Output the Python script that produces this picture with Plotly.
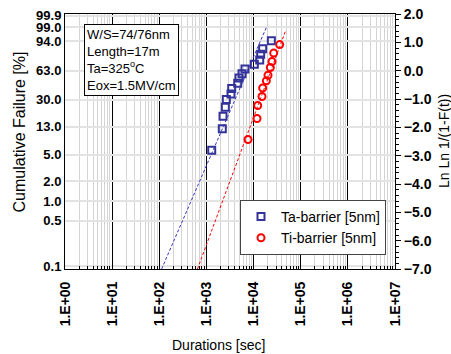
import plotly.graph_objects as go

# ---- data ----
ta_time = [1294, 2173, 2249, 2518, 2642, 3319, 3436, 4603, 4909, 5689, 6577, 10375, 13490, 14158, 15596, 23823]
ta_lnln = [-2.81, -2.05, -1.61, -1.29, -1.02, -0.82, -0.63, -0.44, -0.26, -0.11, 0.055, 0.23, 0.38, 0.58, 0.77, 1.06]

ti_time = [7621, 11830, 12218, 15101, 15596, 18664, 20230, 22646, 24604, 26730, 35810]
ti_lnln = [-2.43, -1.69, -1.23, -0.91, -0.61, -0.36, -0.16, 0.11, 0.32, 0.62, 0.92]

ta_fit_time = [112, 19275]
ta_fit_lnln = [-7.0, 1.58]
ti_fit_time = [646, 47100]
ti_fit_lnln = [-7.0, 1.38]

left_tick_pos = [-6.907, -5.296, -4.600, -3.902, -2.970, -1.971, -1.031, 0.0, 1.034, 1.527, 1.933]
left_tick_text = ["0.1", "0.5", "1.0", "2.0", "5.0", "13.0", "30.0", "63.0", "94.0", "99.0", "99.9"]

x_tick_vals = [1, 10, 100, 1000, 10000, 100000, 1000000, 10000000]
x_tick_text = ["1.E+00", "1.E+01", "1.E+02", "1.E+03", "1.E+04", "1.E+05", "1.E+06", "1.E+07"]

BLUE = "#333399"
RED = "#ff0000"
FONT = "Liberation Sans, Arial, sans-serif"

PX_L, PX_R, PX_T, PX_B = 65, 395, 14, 269   # plot area in page pixels
W, H = 451, 354


def px_x(x):
    return (x - PX_L) / (PX_R - PX_L)


def px_y(y):
    return (PX_B - y) / (PX_B - PX_T)


fig = go.Figure()

fig.add_trace(go.Scatter(x=ta_fit_time, y=ta_fit_lnln, mode="lines",
                         line=dict(color="#3333cc", width=1, dash="3px,2px"),
                         showlegend=False, hoverinfo="skip"))
fig.add_trace(go.Scatter(x=ti_fit_time, y=ti_fit_lnln, mode="lines",
                         line=dict(color=RED, width=1, dash="3px,2px"),
                         showlegend=False, hoverinfo="skip"))
fig.add_trace(go.Scatter(x=ta_time, y=ta_lnln, mode="markers", name="Ta-barrier [5nm]",
                         marker=dict(symbol="square-open", size=7, color=BLUE, line=dict(width=2, color=BLUE))))
fig.add_trace(go.Scatter(x=ti_time, y=ti_lnln, mode="markers", name="Ti-barrier [5nm]",
                         marker=dict(symbol="circle-open", size=7, color=RED, line=dict(width=2, color=RED))))
# invisible trace to activate right axis
fig.add_trace(go.Scatter(x=[10], y=[0], yaxis="y2", mode="markers", marker=dict(opacity=0),
                         showlegend=False, hoverinfo="skip"))

fig.update_layout(
    width=W, height=H,
    margin=dict(l=PX_L, r=W - PX_R, t=PX_T, b=H - PX_B, autoexpand=False),
    paper_bgcolor="white", plot_bgcolor="white",
    font=dict(family=FONT, color="black"),
    xaxis=dict(
        type="log", range=[0, 7],
        tickvals=x_tick_vals, ticktext=x_tick_text, tickangle=-90,
        tickfont=dict(size=14, weight="bold"), ticklabelstandoff=6,
        showgrid=True, gridcolor="black", gridwidth=1,
        ticks="inside", ticklen=4, tickcolor="black",
        minor=dict(dtick="D1", showgrid=True, gridcolor="#d4d4d4", gridwidth=1,
                   ticks="inside", ticklen=3, tickcolor="black"),
        showline=True, linecolor="black", linewidth=1, mirror=True,
        zeroline=False,
    ),
    yaxis=dict(
        range=[-7, 2],
        tickvals=left_tick_pos, ticktext=left_tick_text,
        tickfont=dict(size=13, weight="bold"), ticklabeloverflow="allow",
        showgrid=True, gridcolor="#e3e3e3", gridwidth=1.5,
        ticks="", showline=True, linecolor="black", linewidth=1,
        zeroline=False,
    ),
    yaxis2=dict(
        range=[-7, 2], overlaying="y", side="right",
        dtick=1, tick0=0, tickformat=".1f",
        tickfont=dict(size=14, weight="bold"), ticklabeloverflow="allow",
        ticks="outside", ticklen=5, tickcolor="black",
        minor=dict(dtick=0.2, ticks="outside", ticklen=3, tickcolor="black"),
        showgrid=False, showline=True, linecolor="black", linewidth=1,
        zeroline=False,
    ),
    legend=dict(x=px_x(240), y=px_y(200), xanchor="left", yanchor="top",
                bgcolor="white", bordercolor="#444", borderwidth=1,
                font=dict(size=14), tracegroupgap=0),
    annotations=[
        dict(xref="paper", yref="paper", x=px_x(84), y=px_y(24), xanchor="left", yanchor="top",
             text="W/S=74/76nm<br>Length=17m<br>Ta=325<sup>o</sup>C<br>Eox=1.5MV/cm",
             align="left", showarrow=False, font=dict(size=13),
             bgcolor="white", bordercolor="black", borderwidth=1, borderpad=2),
        dict(xref="paper", yref="paper", x=px_x(18.5), y=px_y(132),
             xanchor="center", yanchor="middle", text="Cumulative Failure [%]",
             textangle=-90, showarrow=False, font=dict(size=16)),
        dict(xref="paper", yref="paper", x=px_x(444), y=px_y(141),
             xanchor="center", yanchor="middle", text="Ln Ln 1/(1-F(t))",
             textangle=-90, showarrow=False, font=dict(size=14)),
        dict(xref="paper", yref="paper", x=px_x(218), y=px_y(345),
             xanchor="center", yanchor="middle", text="Durations [sec]",
             showarrow=False, font=dict(size=14)),
    ],
)

# remove the browser's default 8px body margin so the figure sits at the page origin
fig.write_html("out.html", config={"displayModeBar": False},
               post_script="document.body.style.margin='0';")
